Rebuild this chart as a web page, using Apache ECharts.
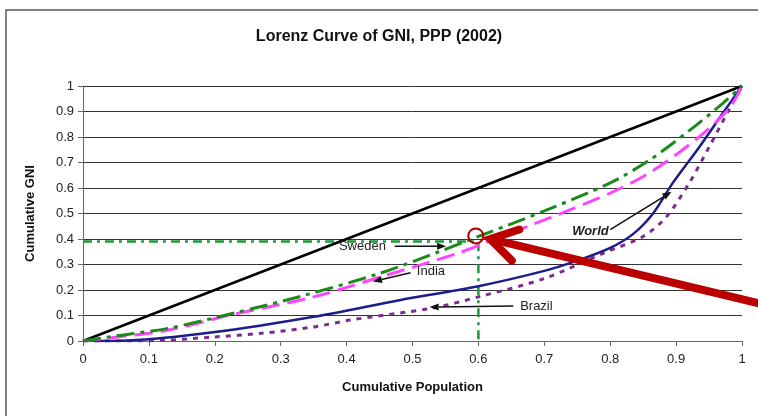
<!DOCTYPE html>
<html>
<head>
<meta charset="utf-8">
<script src="https://cdn.jsdelivr.net/npm/echarts@6/dist/echarts.min.js"></script>
<style>
  html, body { margin: 0; padding: 0; background: #fff; }
  #main { width: 758px; height: 416px; }
</style>
</head>
<body>
<div id="main"></div>
<script>
// cumulative population / cumulative GNI
var equalityX = [0, 1];
var equalityY = [0, 1];

var swedenX = [0, 0.05, 0.13, 0.23, 0.33, 0.45, 0.54, 0.6, 0.7, 0.8, 0.86, 0.92, 0.97, 1];
var swedenY = [0, 0.02, 0.05, 0.11, 0.175, 0.265, 0.35, 0.41, 0.51, 0.62, 0.71, 0.825, 0.93, 1];

var indiaX = [0, 0.05, 0.13, 0.22, 0.35, 0.45, 0.57, 0.61, 0.71, 0.8, 0.86, 0.93, 0.98, 1];
var indiaY = [0, 0.015, 0.043, 0.1, 0.173, 0.25, 0.345, 0.385, 0.485, 0.58, 0.66, 0.79, 0.91, 1];

var worldX = [0, 0.07, 0.2, 0.35, 0.48, 0.6, 0.7, 0.75, 0.8, 0.835, 0.865, 0.895, 0.935, 0.97, 1];
var worldY = [0, 0.002, 0.035, 0.095, 0.16, 0.215, 0.275, 0.315, 0.365, 0.42, 0.5, 0.62, 0.76, 0.89, 1];

var brazilX = [0, 0.09, 0.2, 0.27, 0.35, 0.405, 0.53, 0.6, 0.7, 0.79, 0.85, 0.885, 0.92, 0.95, 0.98, 1];
var brazilY = [0, 0, 0.016, 0.03, 0.055, 0.082, 0.129, 0.173, 0.245, 0.345, 0.41, 0.486, 0.62, 0.76, 0.906, 1];

// guide line for Sweden at 60% of population
var guideX = [0, 0.6, 0.6];
var guideY = [0.39, 0.39, 0];

var yTicks = ['0', '0.1', '0.2', '0.3', '0.4', '0.5', '0.6', '0.7', '0.8', '0.9', '1'];

function pairs(xs, ys) {
    return xs.map(function (x, i) { return [x, ys[i]]; });
}

var FONT = "'Liberation Sans', Arial, sans-serif";

var option = {
    backgroundColor: '#fff',
    animation: false,
    title: {
        text: 'Lorenz Curve of GNI, PPP (2002)',
        left: 'center',
        top: 24,
        textStyle: { fontFamily: FONT, fontSize: 16, fontWeight: 'bold', color: '#111' }
    },
    grid: { left: 83, right: 16, top: 86, bottom: 75 },
    xAxis: {
        type: 'value', min: 0, max: 1, interval: 0.1,
        name: 'Cumulative Population', nameLocation: 'middle', nameGap: 40,
        nameTextStyle: { fontFamily: FONT, fontSize: 13, fontWeight: 'bold', color: '#111' },
        axisLine: { lineStyle: { color: '#666', width: 1 } },
        axisTick: { show: true, length: 5, lineStyle: { color: '#666' } },
        axisLabel: {
            fontFamily: FONT, fontSize: 13, color: '#222', margin: 12,
            formatter: function (v) { return yTicks[Math.round(v * 10)]; }
        },
        splitLine: { show: false }
    },
    yAxis: {
        type: 'value', min: 0, max: 1, interval: 0.1,
        name: 'Cumulative GNI', nameLocation: 'middle', nameGap: 46,
        nameTextStyle: { fontFamily: FONT, fontSize: 13, fontWeight: 'bold', color: '#111' },
        axisLine: { show: true, lineStyle: { color: '#666', width: 1 } },
        axisTick: { show: true, length: 5, lineStyle: { color: '#666' } },
        axisLabel: {
            fontFamily: FONT, fontSize: 13, color: '#222', margin: 9,
            formatter: function (v) { return yTicks[Math.round(v * 10)]; }
        },
        splitLine: { show: true, lineStyle: { color: '#333', width: 1 } }
    },
    series: [
        {
            name: 'Guide', type: 'line', data: pairs(guideX, guideY), symbol: 'none',
            lineStyle: { color: '#1a9a3a', width: 2.5, type: [9, 5, 3, 5] }, z: 1
        },
        {
            name: 'Equality', type: 'line', data: pairs(equalityX, equalityY), symbol: 'none',
            lineStyle: { color: '#000', width: 2.5 }
        },
        {
            name: 'Brazil', type: 'line', data: pairs(brazilX, brazilY), symbol: 'none', smooth: 0.3,
            lineStyle: { color: '#7b2d8e', width: 3, type: [5, 6] }
        },
        {
            name: 'World', type: 'line', data: pairs(worldX, worldY), symbol: 'none', smooth: 0.3,
            lineStyle: { color: '#1c1c8c', width: 2.5 }
        },
        {
            name: 'India', type: 'line', data: pairs(indiaX, indiaY), symbol: 'none', smooth: 0.3,
            lineStyle: { color: '#ff44ff', width: 3, type: [18, 8] }
        },
        {
            name: 'Sweden', type: 'line', data: pairs(swedenX, swedenY), symbol: 'none', smooth: 0.3,
            lineStyle: { color: '#1a8a1a', width: 3, type: [18, 6, 4, 6] }
        }
    ]
};

var chart = echarts.init(document.getElementById('main'));
chart.setOption(option);

function px(p) { return chart.convertToPixel({ gridIndex: 0 }, p); }

// arrow with a filled triangle head
function arrow(from, to, color, width, headLen, headW) {
    var a = px(from), b = px(to);
    var dx = b[0] - a[0], dy = b[1] - a[1];
    var len = Math.sqrt(dx * dx + dy * dy);
    var ux = dx / len, uy = dy / len;
    var bx = b[0] - ux * headLen, by = b[1] - uy * headLen;
    return [
        { type: 'line', shape: { x1: a[0], y1: a[1], x2: bx, y2: by }, style: { stroke: color, lineWidth: width }, z: 100 },
        { type: 'polygon', shape: { points: [[b[0], b[1]], [bx - uy * headW, by + ux * headW], [bx + uy * headW, by - ux * headW]] }, style: { fill: color }, z: 100 }
    ];
}

// open chevron arrow (the big red one)
function openArrow(from, to, color, width, headLen, headW) {
    var a = px(from), b = px(to);
    var dx = b[0] - a[0], dy = b[1] - a[1];
    var len = Math.sqrt(dx * dx + dy * dy);
    var ux = dx / len, uy = dy / len;
    var bx = b[0] - ux * headLen, by = b[1] - uy * headLen;
    return [
        { type: 'line', shape: { x1: a[0], y1: a[1], x2: b[0] - ux * 3, y2: b[1] - uy * 3 }, style: { stroke: color, lineWidth: width }, z: 101 },
        { type: 'polyline', shape: { points: [[bx - uy * headW, by + ux * headW], [b[0], b[1]], [bx + uy * headW, by - ux * headW]] },
          style: { stroke: color, lineWidth: width, fill: null, lineJoin: 'miter', lineCap: 'round' }, z: 101 }
    ];
}

function label(at, text, extra) {
    var p = px(at);
    var st = { text: text, x: p[0], y: p[1], fill: '#222', font: '13px ' + FONT, align: 'center', verticalAlign: 'middle' };
    if (extra) { for (var k in extra) st[k] = extra[k]; }
    return { type: 'text', style: st, z: 100 };
}

var circ = px([0.596, 0.412]);

var graphics = [
    { type: 'rect', shape: { x: 6, y: 10, width: 800, height: 460 }, style: { stroke: '#555', lineWidth: 1.5, fill: null }, z: 0, silent: true },
    label([0.424, 0.372], 'Sweden'),
    label([0.528, 0.272], 'India'),
    label([0.688, 0.137], 'Brazil'),
    label([0.77, 0.43], 'World', { font: 'italic bold 13px ' + FONT })
]
    .concat(arrow([0.473, 0.372], [0.551, 0.372], '#111', 1.5, 9, 3.5))
    .concat(arrow([0.497, 0.268], [0.44, 0.233], '#111', 1.5, 9, 3.5))
    .concat(arrow([0.653, 0.137], [0.526, 0.133], '#111', 1.5, 9, 3.5))
    .concat(arrow([0.8, 0.437], [0.893, 0.585], '#111', 1.5, 9, 3.5))
    .concat(openArrow([1.03, 0.145], [0.618, 0.4], '#bb0000', 8, 26, 16))
    .concat([{ type: 'circle', shape: { cx: circ[0], cy: circ[1], r: 7.5 }, style: { stroke: '#b00000', lineWidth: 2, fill: null }, z: 102 }]);

chart.setOption({ graphic: graphics });
</script>
</body>
</html>
